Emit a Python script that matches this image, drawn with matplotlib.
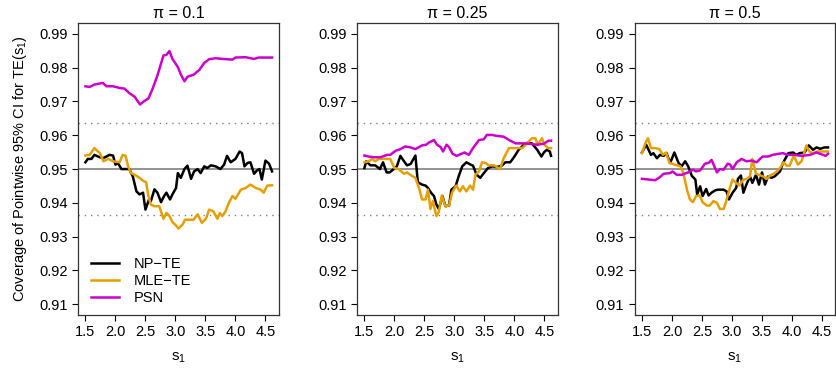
import matplotlib
matplotlib.use("Agg")
import matplotlib.pyplot as plt

plt.rcParams['font.family'] = ['Liberation Sans', 'DejaVu Sans']
plt.rcParams['mathtext.fontset'] = 'custom'
plt.rcParams['mathtext.rm'] = 'Liberation Sans'
plt.rcParams['mathtext.it'] = 'Liberation Sans'

titles = ["π = 0.1", "π = 0.25", "π = 0.5"]
labels = ["NP\u2212TE", "MLE\u2212TE", "PSN"]
colors = ["black", "#E69F00", "#CC00CC"]
yticks = [0.91, 0.92, 0.93, 0.94, 0.95, 0.96, 0.97, 0.98, 0.99]
xticks = [1.5, 2.0, 2.5, 3.0, 3.5, 4.0, 4.5]

# ---- pi = 0.1 ----
np1_x = [1.50, 1.54, 1.60, 1.65, 1.71, 1.79, 1.85, 1.90, 1.96, 2.00, 2.04, 2.10, 2.18, 2.23, 2.29,
         2.35, 2.40, 2.46, 2.50, 2.56, 2.59, 2.65, 2.70, 2.76, 2.81, 2.85, 2.91, 2.95, 3.01, 3.04,
         3.09, 3.15, 3.20, 3.26, 3.31, 3.37, 3.42, 3.48, 3.53, 3.59, 3.67, 3.75, 3.81, 3.86, 3.92,
         4.00, 4.07, 4.11, 4.15, 4.20, 4.25, 4.31, 4.36, 4.40, 4.44, 4.50, 4.56, 4.61]
np1_y = [0.9520, 0.9530, 0.9530, 0.9542, 0.9537, 0.9532, 0.9537, 0.9542, 0.9540, 0.9513, 0.9518,
         0.9500, 0.9500, 0.9500, 0.9478, 0.9434, 0.9425, 0.9430, 0.9380, 0.9410, 0.9405, 0.9440,
         0.9430, 0.9402, 0.9420, 0.9430, 0.9410, 0.9425, 0.9444, 0.9488, 0.9474, 0.9500, 0.9510,
         0.9471, 0.9493, 0.9500, 0.9488, 0.9508, 0.9503, 0.9511, 0.9508, 0.9500, 0.9513, 0.9539,
         0.9520, 0.9530, 0.9552, 0.9547, 0.9508, 0.9518, 0.9520, 0.9486, 0.9496, 0.9500, 0.9469,
         0.9525, 0.9516, 0.9493]
mle1_x = [1.50, 1.57, 1.65, 1.74, 1.80, 1.88, 1.96, 2.07, 2.12, 2.17, 2.21, 2.26, 2.32, 2.40, 2.47,
          2.51, 2.55, 2.59, 2.65, 2.73, 2.80, 2.85, 2.90, 2.95, 3.01, 3.05, 3.12, 3.16, 3.23, 3.30,
          3.37, 3.44, 3.51, 3.56, 3.63, 3.70, 3.74, 3.78, 3.83, 3.89, 3.95, 4.00, 4.09, 4.17, 4.25,
          4.34, 4.42, 4.47, 4.53, 4.61]
mle1_y = [0.9540, 0.9542, 0.9562, 0.9547, 0.9523, 0.9530, 0.9523, 0.9520, 0.9542, 0.9539, 0.9508,
          0.9488, 0.9483, 0.9474, 0.9464, 0.9462, 0.9420, 0.9395, 0.9390, 0.9390, 0.9353, 0.9370,
          0.9361, 0.9343, 0.9333, 0.9324, 0.9336, 0.9350, 0.9350, 0.9350, 0.9366, 0.9341, 0.9353,
          0.9380, 0.9375, 0.9353, 0.9370, 0.9361, 0.9373, 0.9400, 0.9420, 0.9412, 0.9439, 0.9444,
          0.9454, 0.9444, 0.9439, 0.9430, 0.9451, 0.9452]
psn1_x = [1.50, 1.57, 1.65, 1.79, 1.85, 1.96, 2.07, 2.15, 2.23, 2.32, 2.41, 2.47, 2.55, 2.62, 2.70,
          2.80, 2.85, 2.90, 2.95, 3.04, 3.09, 3.15, 3.20, 3.31, 3.40, 3.48, 3.56, 3.67, 3.78, 3.95,
          4.00, 4.17, 4.31, 4.39, 4.61]
psn1_y = [0.9745, 0.9743, 0.9750, 0.9755, 0.9745, 0.9745, 0.9740, 0.9738, 0.9725, 0.9714, 0.9691,
          0.9700, 0.9709, 0.9738, 0.9777, 0.9836, 0.9838, 0.9849, 0.9826, 0.9802, 0.9780, 0.9760,
          0.9773, 0.9780, 0.9794, 0.9814, 0.9825, 0.9828, 0.9826, 0.9824, 0.9830, 0.9831, 0.9826,
          0.9830, 0.9830]

# ---- pi = 0.25 ----
np2_x = [1.50, 1.53, 1.60, 1.68, 1.76, 1.81, 1.87, 1.92, 1.99, 2.04, 2.10, 2.16, 2.21, 2.27, 2.35,
         2.39, 2.46, 2.52, 2.56, 2.61, 2.66, 2.70, 2.74, 2.80, 2.85, 2.91, 2.95, 3.02, 3.07, 3.13,
         3.20, 3.27, 3.31, 3.37, 3.43, 3.49, 3.56, 3.63, 3.71, 3.79, 3.85, 3.93, 4.00, 4.07, 4.16,
         4.22, 4.29, 4.38, 4.45, 4.49, 4.54, 4.59, 4.61]
np2_y = [0.9503, 0.9523, 0.9511, 0.9511, 0.9500, 0.9520, 0.9490, 0.9490, 0.9500, 0.9508, 0.9539,
         0.9523, 0.9511, 0.9515, 0.9540, 0.9461, 0.9454, 0.9451, 0.9444, 0.9430, 0.9420, 0.9395,
         0.9382, 0.9420, 0.9390, 0.9392, 0.9439, 0.9449, 0.9478, 0.9508, 0.9520, 0.9513, 0.9510,
         0.9483, 0.9474, 0.9488, 0.9503, 0.9508, 0.9506, 0.9510, 0.9520, 0.9520, 0.9537, 0.9557,
         0.9572, 0.9578, 0.9576, 0.9557, 0.9537, 0.9549, 0.9557, 0.9552, 0.9539]
mle2_x = [1.50, 1.57, 1.63, 1.68, 1.74, 1.82, 1.93, 2.00, 2.07, 2.16, 2.21, 2.29, 2.35, 2.41, 2.46,
          2.52, 2.56, 2.60, 2.64, 2.70, 2.74, 2.79, 2.85, 2.91, 2.96, 3.03, 3.09, 3.14, 3.20, 3.26,
          3.31, 3.35, 3.41, 3.46, 3.52, 3.57, 3.66, 3.76, 3.82, 3.91, 4.02, 4.13, 4.21, 4.29, 4.35,
          4.39, 4.46, 4.50, 4.56, 4.61]
mle2_y = [0.9520, 0.9523, 0.9530, 0.9523, 0.9530, 0.9530, 0.9530, 0.9503, 0.9500, 0.9486, 0.9490,
          0.9480, 0.9474, 0.9444, 0.9410, 0.9410, 0.9439, 0.9382, 0.9405, 0.9361, 0.9373, 0.9422,
          0.9390, 0.9392, 0.9430, 0.9451, 0.9434, 0.9449, 0.9434, 0.9451, 0.9439, 0.9483, 0.9493,
          0.9520, 0.9518, 0.9511, 0.9511, 0.9500, 0.9532, 0.9562, 0.9562, 0.9562, 0.9576, 0.9591,
          0.9591, 0.9572, 0.9591, 0.9572, 0.9562, 0.9562]
psn2_x = [1.50, 1.57, 1.66, 1.77, 1.88, 1.93, 2.02, 2.10, 2.18, 2.27, 2.35, 2.46, 2.53, 2.57, 2.66,
          2.71, 2.77, 2.81, 2.87, 2.91, 2.97, 3.04, 3.10, 3.17, 3.24, 3.31, 3.41, 3.49, 3.54, 3.63,
          3.71, 3.82, 3.91, 4.02, 4.13, 4.24, 4.38, 4.49, 4.57, 4.61]
psn2_y = [0.9540, 0.9537, 0.9535, 0.9535, 0.9542, 0.9542, 0.9554, 0.9559, 0.9567, 0.9564, 0.9559,
          0.9570, 0.9572, 0.9578, 0.9586, 0.9572, 0.9565, 0.9552, 0.9572, 0.9565, 0.9545, 0.9539,
          0.9544, 0.9549, 0.9542, 0.9562, 0.9586, 0.9588, 0.9601, 0.9601, 0.9598, 0.9596, 0.9586,
          0.9576, 0.9576, 0.9575, 0.9572, 0.9575, 0.9584, 0.9584]

# ---- pi = 0.5 ----
np3_x = [1.50, 1.57, 1.61, 1.65, 1.69, 1.75, 1.80, 1.86, 1.91, 1.97, 2.04, 2.11, 2.16, 2.22, 2.27,
         2.33, 2.39, 2.42, 2.47, 2.51, 2.57, 2.61, 2.66, 2.72, 2.77, 2.86, 2.91, 2.95, 3.01, 3.07,
         3.10, 3.15, 3.19, 3.24, 3.30, 3.34, 3.40, 3.45, 3.50, 3.55, 3.60, 3.66, 3.71, 3.80, 3.85,
         3.94, 4.02, 4.07, 4.13, 4.21, 4.28, 4.35, 4.41, 4.47, 4.54, 4.60]
np3_y = [0.9549, 0.9572, 0.9557, 0.9542, 0.9547, 0.9532, 0.9542, 0.9539, 0.9547, 0.9518, 0.9549,
         0.9518, 0.9508, 0.9523, 0.9508, 0.9480, 0.9469, 0.9425, 0.9449, 0.9420, 0.9441, 0.9422,
         0.9430, 0.9437, 0.9439, 0.9439, 0.9434, 0.9410, 0.9430, 0.9444, 0.9471, 0.9481, 0.9430,
         0.9454, 0.9478, 0.9459, 0.9483, 0.9454, 0.9490, 0.9454, 0.9478, 0.9474, 0.9478, 0.9493,
         0.9518, 0.9547, 0.9549, 0.9542, 0.9547, 0.9549, 0.9570, 0.9557, 0.9564, 0.9560, 0.9564,
         0.9564]
mle3_x = [1.50, 1.56, 1.60, 1.65, 1.72, 1.79, 1.85, 1.90, 1.96, 2.05, 2.14, 2.19, 2.25, 2.30, 2.35,
          2.40, 2.46, 2.51, 2.58, 2.63, 2.69, 2.75, 2.80, 2.86, 2.90, 2.96, 3.01, 3.07, 3.12, 3.19,
          3.25, 3.30, 3.34, 3.40, 3.45, 3.52, 3.58, 3.63, 3.69, 3.75, 3.80, 3.86, 3.91, 3.96, 4.03,
          4.10, 4.16, 4.24, 4.29, 4.35, 4.42, 4.52, 4.60]
mle3_y = [0.9547, 0.9578, 0.9591, 0.9562, 0.9562, 0.9559, 0.9542, 0.9549, 0.9518, 0.9513, 0.9508,
          0.9488, 0.9439, 0.9410, 0.9402, 0.9420, 0.9422, 0.9402, 0.9392, 0.9392, 0.9405, 0.9400,
          0.9382, 0.9382, 0.9402, 0.9441, 0.9469, 0.9459, 0.9451, 0.9469, 0.9471, 0.9478, 0.9530,
          0.9486, 0.9483, 0.9478, 0.9471, 0.9480, 0.9486, 0.9493, 0.9503, 0.9520, 0.9510, 0.9510,
          0.9539, 0.9513, 0.9523, 0.9570, 0.9552, 0.9547, 0.9552, 0.9552, 0.9552]
psn3_x = [1.50, 1.61, 1.72, 1.80, 1.86, 1.97, 2.01, 2.08, 2.16, 2.27, 2.35, 2.40, 2.47, 2.55, 2.61,
          2.66, 2.75, 2.80, 2.86, 2.93, 2.97, 3.01, 3.08, 3.16, 3.24, 3.33, 3.41, 3.51, 3.60, 3.68,
          3.77, 3.85, 3.93, 4.04, 4.16, 4.30, 4.41, 4.52, 4.56, 4.60]
psn3_y = [0.9471, 0.9469, 0.9467, 0.9476, 0.9486, 0.9488, 0.9493, 0.9483, 0.9483, 0.9490, 0.9498,
          0.9493, 0.9496, 0.9516, 0.9518, 0.9527, 0.9490, 0.9500, 0.9498, 0.9516, 0.9513, 0.9500,
          0.9520, 0.9530, 0.9523, 0.9525, 0.9520, 0.9537, 0.9537, 0.9542, 0.9545, 0.9547, 0.9542,
          0.9542, 0.9539, 0.9542, 0.9549, 0.9542, 0.9539, 0.9545]

panels = [
    [(np1_x, np1_y), (mle1_x, mle1_y), (psn1_x, psn1_y)],
    [(np2_x, np2_y), (mle2_x, mle2_y), (psn2_x, psn2_y)],
    [(np3_x, np3_y), (mle3_x, mle3_y), (psn3_x, psn3_y)],
]

nominal = 0.95
mc_lo, mc_hi = 0.9365, 0.9635

fig = plt.figure(figsize=(8.36, 3.70), dpi=100)
lefts = [0.0933, 0.4270, 0.7590]
for i, series in enumerate(panels):
    ax = fig.add_axes([lefts[i], 0.1486, 0.2403, 0.789])
    ax.axhline(nominal, color="#808080", lw=1.2, zorder=1)
    for v in (mc_lo, mc_hi):
        ax.axhline(v, color="#808080", lw=1.0, ls=(0, (1, 3.5)), zorder=1)
    for (x, y), c, lab in zip(series, colors, labels):
        ax.plot(x, y, color=c, lw=1.8, label=lab, zorder=2)
    ax.set_xlim(1.376, 4.724)
    ax.set_ylim(0.9068, 0.9932)
    ax.set_xticks(xticks)
    ax.set_xticklabels([f"{t:.1f}" for t in xticks])
    ax.set_yticks(yticks)
    ax.set_yticklabels([f"{t:.2f}" for t in yticks])
    ax.tick_params(direction="out", length=4.5, width=0.8, labelsize=10.5, pad=3)
    for s in ax.spines.values():
        s.set_linewidth(0.9)
        s.set_color("#333333")
    ax.set_title(titles[i], fontsize=11.5, pad=4)
    ax.set_xlabel(r"$\mathregular{s_1}$", fontsize=11, labelpad=8)
    if i == 0:
        ax.set_ylabel(r"Coverage of Pointwise 95% CI for TE($\mathregular{s_1}$)",
                      fontsize=10.5, labelpad=7)
        ax.legend(loc="lower left", frameon=False, fontsize=10.5, handlelength=1.9,
                  handletextpad=1.0, labelspacing=0.2, borderaxespad=0.3,
                  bbox_to_anchor=(0.015, 0.0))

fig.savefig("out.png", dpi=100)
